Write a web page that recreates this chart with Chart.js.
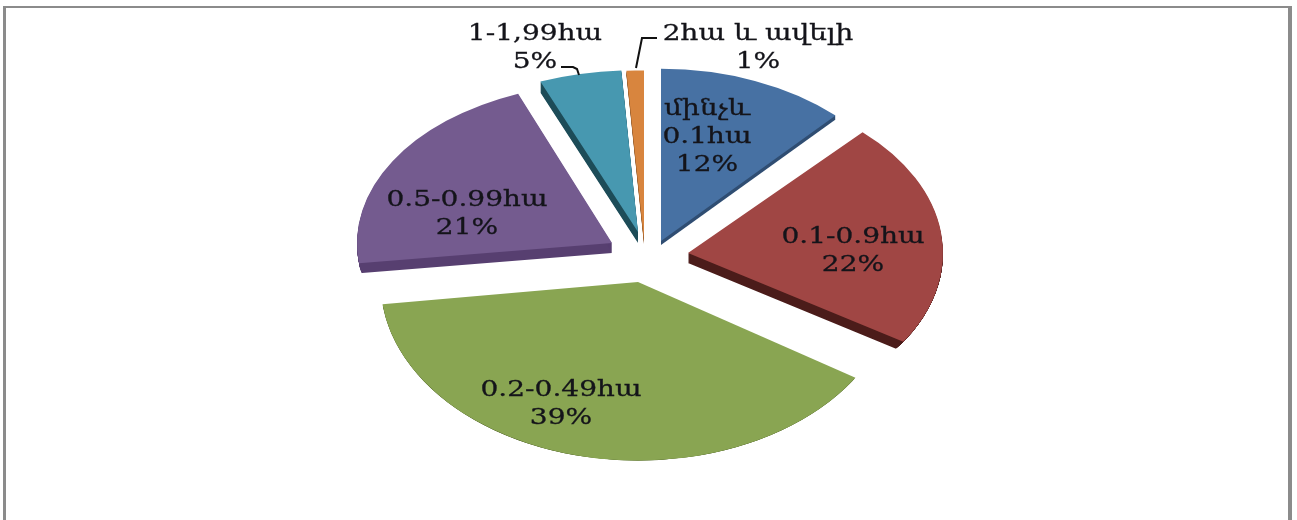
<!DOCTYPE html>
<html>
<head>
<meta charset="utf-8">
<title>Pie</title>
<script src="https://cdn.jsdelivr.net/npm/chart.js@4"></script>
<style>
  html, body { margin: 0; padding: 0; background: #fff; overflow: hidden; }
  #frame {
    position: absolute; left: 3px; top: 6px; width: 1289px; height: 514px;
    border-left: 3px solid #8b8b8b; border-top: 2px solid #8b8b8b; border-right: 4px solid #8b8b8b;
    box-sizing: border-box;
  }
  canvas { position: absolute; left: 0; top: 0; }
</style>
</head>
<body>
<div id="frame"></div>
<canvas id="pie" width="1297" height="520"></canvas>
<script>
const categories = [['մինչև', '0.1հա'], ['0.1-0.9հա'], ['0.2-0.49հա'], ['0.5-0.99հա'], ['1-1,99հա'], ['2հա և ավելի']];
const values = [12, 22, 39, 21, 5, 1];

const topColors = ['#4771a3', '#a04644', '#89a552', '#745b8f', '#4798b0', '#d8853e'];
const wallColors = ['#2f4d72', '#4b1c1a', '#4f6128', '#573f70', '#1d4c58', '#8f5524'];
// how far each slice is pulled out of the pie, and its flattening (perspective differs per slice)
const pull = [[16, -17], [43, -5], [-7, 24], [-33, -15], [-7, -26], [-1, -18]];
const flatten = [0.675, 0.65, 0.7, 0.63, 0.635, 0.665];
const widen = [1, 1, 1.01, 1, 1.04, 1.1];
const wallDepth = [4, 10, 2, 10, 11, 4];

// label centres, first line
const labelSpots = [[707, 109], [853, 237], [561, 390], [467, 200], [535, 34], [758, 34]];
const lineGap = 28;
const leaders = [
  [[561, 67], [573, 67], [577, 69], [579, 75]],
  [[657, 38], [642, 38], [636, 68]]
];

const total = values.reduce((a, b) => a + b, 0);

// the arcs are round in Chart.js, so squash and pull them apart here
const tiltedPie = {
  id: 'tiltedPie',
  beforeDatasetDraw(chart, args) {
    const ctx = chart.ctx;
    const arcs = chart.getDatasetMeta(args.index).data;
    const place = (arc, i) => {
      ctx.translate(arc.x + pull[i][0], arc.y + pull[i][1]);
      ctx.scale(widen[i], flatten[i]);
      ctx.translate(-arc.x, -arc.y);
    };
    arcs.forEach((arc, i) => {
      const top = arc.options;
      ctx.save();
      place(arc, i);
      ctx.beginPath();
      ctx.arc(arc.x, arc.y, arc.outerRadius, 0, Math.PI * 2);
      ctx.clip();
      arc.options = { ...top, backgroundColor: wallColors[i], borderWidth: 0 };
      for (let d = 1; d <= wallDepth[i]; d++) {
        ctx.save();
        ctx.translate(0, d / flatten[i]);
        arc.draw(ctx);
        ctx.restore();
      }
      arc.options = top;
      ctx.restore();
    });
    arcs.forEach((arc, i) => {
      ctx.save();
      place(arc, i);
      arc.draw(ctx);
      ctx.restore();
    });
    return false;
  },
  afterDraw(chart) {
    const ctx = chart.ctx;
    ctx.save();
    ctx.strokeStyle = '#111';
    ctx.lineWidth = 2;
    leaders.forEach(pts => {
      ctx.beginPath();
      pts.forEach((p, i) => i ? ctx.lineTo(p[0], p[1]) : ctx.moveTo(p[0], p[1]));
      ctx.stroke();
    });
    ctx.fillStyle = '#14141a';
    ctx.strokeStyle = '#14141a';
    ctx.lineWidth = 0.3;
    ctx.font = '23px "DejaVu Serif"';
    ctx.textAlign = 'center';
    ctx.textBaseline = 'middle';
    categories.forEach((lines, i) => {
      const rows = [...lines, Math.round(values[i] / total * 100) + '%'];
      rows.forEach((row, r) => {
        ctx.save();
        ctx.translate(labelSpots[i][0], labelSpots[i][1] + r * lineGap);
        ctx.scale(1.22, 1);
        ctx.fillText(row, 0, 0);
        ctx.strokeText(row, 0, 0);
        ctx.restore();
      });
    });
    ctx.restore();
  }
};

new Chart(document.getElementById('pie'), {
  type: 'pie',
  data: {
    labels: categories,
    datasets: [{
      data: values,
      backgroundColor: topColors,
      borderWidth: 0,
      clip: false
    }]
  },
  options: {
    responsive: false,
    animation: false,
    radius: 255,
    devicePixelRatio: 1,
    layout: { padding: { right: 7, bottom: 4 } },
    plugins: { legend: { display: false }, tooltip: { enabled: false } }
  },
  plugins: [tiltedPie]
});
</script>
</body>
</html>
